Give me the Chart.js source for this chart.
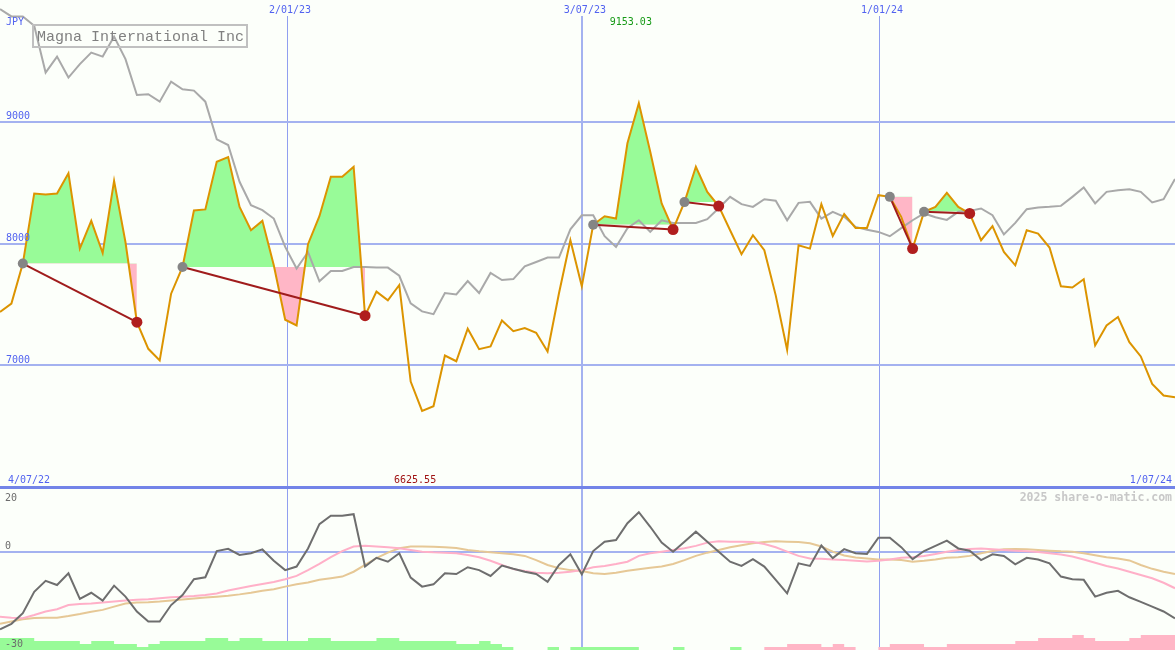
<!DOCTYPE html>
<html>
<head>
<meta charset="utf-8">
<script src="https://cdn.jsdelivr.net/npm/chart.js@4.4.1/dist/chart.umd.min.js"></script>
<style>
  html, body { margin: 0; padding: 0; background: #fcfffa; }
  #wrap { position: relative; width: 1175px; height: 650px; overflow: hidden; }
  #priceChart { position: absolute; left: 0; top: 0; }
  #oscChart { position: absolute; left: 0; top: 485px; }
</style>
</head>
<body>
<div id="wrap">
  <canvas id="priceChart" width="1175" height="487"></canvas>
  <canvas id="oscChart" width="1175" height="165"></canvas>
</div>
<script>
// Weekly chart, 4/07/22 .. 1/07/24, one point per week
const TITLE = 'Magna International Inc';
const CURRENCY = 'JPY';
const START_LABEL = '4/07/22';
const END_LABEL = '1/07/24';
const WATERMARK = '2025 share-o-matic.com';
const GRID_DATES = ['2/01/23', '3/07/23', '1/01/24'];
const GRID_POS = [25.2, 51.05, 77.1];   // week index of the date lines
const PRICE_TICKS = [9000, 8000, 7000];
const OSC_TICKS = [20, 0, -30];

const WEEKS = Array.from({ length: 104 }, (_, i) => i);

const PRICE = [
  7437, 7506, 7835, 8411, 8403, 8411, 8576, 7958, 8186, 7922,
  8515, 8010, 7354, 7135, 7039, 7588, 7807, 8271, 8280, 8671,
  8710, 8301, 8109, 8186, 7821, 7374, 7327, 7994, 8224, 8548,
  8548, 8630, 7407, 7605, 7533, 7659, 6866, 6625.55, 6663, 7080,
  7033, 7300, 7132, 7154, 7368, 7280, 7305, 7267, 7113, 7591,
  8027, 7648, 8154, 8224, 8205, 8823, 9153.03, 8753, 8329, 8115,
  8340, 8630, 8424, 8307, 8109, 7912, 8068, 7945, 7574, 7127,
  7986, 7958, 8323, 8062, 8241, 8128, 8128, 8397, 8383, 8219,
  7958, 8260, 8301, 8416, 8301, 8247, 8027, 8142, 7930, 7821,
  8109, 8082, 7967, 7648, 7638, 7706, 7163, 7327, 7396, 7190,
  7072, 6847, 6751, 6737
];

// comparison index (grey line)
const INDEX = [
  9925, 9865, 9865, 9788, 9404, 9535, 9363, 9473, 9568, 9535,
  9700, 9514, 9220, 9226, 9165, 9330, 9267, 9256, 9165, 8856,
  8809, 8507, 8315, 8274, 8205, 7972, 7794, 7930, 7689, 7774,
  7774, 7807, 7807, 7802, 7802, 7735, 7508, 7442, 7420, 7593,
  7582, 7692, 7593, 7758, 7700, 7708, 7813, 7848, 7884, 7884,
  8117, 8232, 8232, 8060, 7972, 8126, 8191, 8095, 8191, 8169,
  8169, 8169, 8200, 8290, 8383, 8323, 8301, 8364, 8352, 8191,
  8334, 8342, 8204, 8260, 8219, 8136, 8113, 8095, 8060, 8126,
  8191, 8247, 8216, 8194, 8260, 8268, 8288, 8232, 8074, 8169,
  8282, 8296, 8301, 8309, 8383, 8460, 8329, 8424, 8438, 8446,
  8424, 8337, 8364, 8529
];

// trades: entry / exit week
const TRADE_ENTRY = [2, 16, 52, 60, 78, 81];
const TRADE_EXIT = [12, 32, 59, 63, 80, 85];

// lower panel
const OSC = [
  -24.0, -22.3, -19.0, -12.4, -9.0, -10.3, -6.7, -14.6, -12.7, -15.1,
  -10.5, -13.9, -18.5, -21.6, -21.6, -16.5, -13.4, -8.5, -7.9, 0.2,
  0.9, -1.0, -0.5, 0.7, -2.8, -5.7, -4.6, 1.0, 8.5, 11.1,
  11.1, 11.6, -4.6, -1.9, -3.1, -0.5, -8.0, -10.8, -10.1, -6.7,
  -6.9, -4.8, -5.7, -7.5, -4.3, -5.3, -6.2, -6.9, -9.3, -4.1,
  -0.8, -7.0, 0.2, 3.1, 3.6, 8.8, 12.2, 7.7, 2.8, 0.0,
  3.1, 6.2, 3.1, 0.0, -3.1, -4.4, -2.3, -4.6, -8.7, -12.9,
  -3.6, -4.4, 1.9, -2.0, 0.8, -0.5, -0.7, 4.3, 4.3, 1.4,
  -2.3, 0.2, 1.8, 3.4, 1.0, 0.3, -2.6, -0.8, -1.3, -3.9,
  -1.9, -2.4, -3.6, -7.7, -8.5, -8.7, -13.9, -12.7, -12.1, -14.1,
  -15.5, -17.0, -18.5, -20.6
];
const OSC_FAST = [
  -20.1, -20.4, -20.6, -19.6, -18.5, -17.8, -16.5, -16.2, -16.0, -15.7,
  -15.4, -15.1, -14.9, -14.7, -14.4, -14.1, -13.9, -13.7, -13.4, -12.9,
  -12.0, -11.3, -10.6, -10.0, -9.4, -8.5, -7.5, -5.7, -3.8, -1.7,
  0.2, 1.6, 1.8, 1.6, 1.35, 1.05, 0.5, 0.0, -0.2, -0.3,
  -0.5, -1.0, -1.7, -2.8, -4.1, -5.4, -6.0, -6.5, -6.7, -6.5,
  -6.2, -5.7, -4.8, -4.4, -3.8, -3.1, -1.3, -0.5, 0.0, 0.5,
  1.05, 1.8, 2.8, 3.2, 3.1, 3.1, 3.0, 2.4, 1.35, 0.0,
  -1.3, -2.1, -2.2, -2.4, -2.6, -2.8, -3.0, -2.8, -2.4, -1.9,
  -1.7, -1.3, -0.7, 0.0, 0.5, 0.85, 0.95, 0.75, 0.5, 0.3,
  0.1, -0.1, -0.5, -0.9, -1.5, -2.4, -3.4, -4.4, -5.2, -6.2,
  -7.2, -8.2, -9.6, -11.3
];
const OSC_SLOW = [
  -22.3, -21.6, -20.9, -20.5, -20.4, -20.4, -19.9, -19.3, -18.6, -18.0,
  -17.0, -16.0, -15.7, -15.6, -15.4, -15.1, -14.8, -14.5, -14.2, -13.9,
  -13.6, -13.2, -12.7, -12.1, -11.6, -10.8, -10.1, -9.5, -8.7, -8.2,
  -7.7, -6.2, -4.1, -2.0, -0.3, 1.05, 1.6, 1.6, 1.5, 1.35,
  1.15, 0.5, 0.1, -0.2, -0.5, -0.8, -1.3, -2.6, -4.1, -5.1,
  -5.7, -6.0, -6.7, -6.9, -6.5, -5.9, -5.4, -5.0, -4.6, -3.8,
  -2.6, -1.3, -0.3, 0.5, 1.35, 2.0, 2.6, 3.0, 3.2, 3.1,
  3.0, 2.6, 1.6, 0.0, -1.2, -1.8, -2.1, -2.4, -2.4, -2.6,
  -3.1, -2.8, -2.4, -1.9, -1.7, -1.3, -0.5, 0.2, 0.75, 0.85,
  0.75, 0.5, 0.3, 0.1, 0.0, -0.5, -1.1, -1.7, -2.1, -2.7,
  -4.1, -5.3, -6.2, -6.9
];
const BAR_UP = [
  4, 4, 4, 4, 3, 3, 3, 3, 2, 3,
  3, 2, 2, 1, 2, 3, 3, 3, 3, 4,
  4, 3, 4, 4, 3, 3, 3, 3, 4, 4,
  3, 3, 3, 3, 4, 4, 3, 3, 3, 3,
  3, 2, 2, 3, 2, 1, 0, 0, 0, 1,
  0, 1, 1, 1, 1, 1, 1, 0, 0, 0,
  1, 0, 0, 0, 0, 1, 0, 0, 0, 0,
  0, 0, 0, 0, 0, 0, 0, 0, 0, 0,
  0, 0, 0, 0, 0, 0, 0, 0, 0, 0,
  0, 0, 0, 0, 0, 0, 0, 0, 0, 0,
  0, 0, 0, 0
];
const BAR_DOWN = [
  0, 0, 0, 0, 0, 0, 0, 0, 0, 0,
  0, 0, 0, 0, 0, 0, 0, 0, 0, 0,
  0, 0, 0, 0, 0, 0, 0, 0, 0, 0,
  0, 0, 0, 0, 0, 0, 0, 0, 0, 0,
  0, 0, 0, 0, 0, 0, 0, 0, 0, 0,
  0, 0, 0, 0, 0, 0, 0, 0, 0, 0,
  0, 0, 0, 0, 0, 0, 0, 0, 1, 1,
  2, 2, 2, 1, 2, 1, 0, 0, 1, 2,
  2, 2, 1, 1, 2, 2, 2, 2, 2, 2,
  3, 3, 4, 4, 4, 5, 4, 3, 3, 3,
  4, 5, 5, 5
];

const BG = '#fcfffa';
const GRID = '#a4b2f0';
const GRID_THIN = '#909ff0';
const SEP = '#7384e8';
const LABEL_BLUE = '#5263f0';
const ORANGE = '#dc9400';
const GREY_LINE = '#a9a9a9';
const GAIN = '#98fb98';
const LOSS = '#ffb6c6';
const TRADE_RED = '#a01c1c';
const EXIT_RED = '#b01e1e';
const ENTRY_GREY = '#858585';
const SMALL = '10px "DejaVu Sans Mono"';

const isMainDate = c => c.tick && c.tick.value === GRID_POS[1];
const xAxis = () => ({
    type: 'linear', min: 0, max: 103,
    afterBuildTicks: s => { s.ticks = GRID_POS.map(v => ({ value: v })); },
    ticks: { display: false },
    border: { display: false },
    grid: {
        drawTicks: false,
        color: c => isMainDate(c) ? GRID : GRID_THIN,
        lineWidth: c => isMainDate(c) ? 2 : 1
    }
});

const baseOptions = {
    responsive: false,
    animation: false,
    devicePixelRatio: 1,
    events: [],
    layout: { padding: 0, autoPadding: false },
    elements: { line: { tension: 0 }, point: { radius: 0 } }
};

// ---- price panel ----
const priceSets = [];
TRADE_ENTRY.forEach((e, k) => {
    const x = TRADE_EXIT[k];
    const inTrade = i => i >= e && i <= x;
    const levelIdx = priceSets.length;
    priceSets.push({
        data: PRICE.map((v, i) => inTrade(i) ? PRICE[e] : null),
        borderWidth: 0, borderColor: 'rgba(0,0,0,0)', fill: false, order: 10
    });
    priceSets.push({
        data: PRICE.map((v, i) => inTrade(i) ? v : null),
        borderWidth: 0, borderColor: 'rgba(0,0,0,0)', order: 10,
        fill: { target: levelIdx, above: GAIN, below: LOSS }
    });
});
priceSets.push({ data: INDEX, borderColor: GREY_LINE, borderWidth: 2, fill: false, order: 5 });
priceSets.push({ data: PRICE, borderColor: ORANGE, borderWidth: 2, fill: false, order: 3 });
TRADE_ENTRY.forEach((e, k) => {
    const x = TRADE_EXIT[k];
    priceSets.push({
        data: [{ x: e, y: PRICE[e] }, { x: x, y: PRICE[x] }],
        borderColor: TRADE_RED, borderWidth: 2, fill: false, order: 1,
        pointRadius: [5, 5.5], pointBorderWidth: 0,
        pointBackgroundColor: [ENTRY_GREY, EXIT_RED]
    });
});

const priceText = {
    id: 'priceText',
    beforeDatasetsDraw(chart) {
        const { ctx, scales: { x } } = chart;
        ctx.save();
        ctx.fillStyle = BG;
        GRID_POS.forEach(p => ctx.fillRect(x.getPixelForValue(p) - 26, 0, 52, 16));
        ctx.restore();
    },
    afterDatasetsDraw(chart) {
        const { ctx, scales: { x, y } } = chart;
        ctx.save();
        ctx.font = SMALL;
        ctx.textBaseline = 'alphabetic';
        ctx.fillStyle = LABEL_BLUE;
        ctx.textAlign = 'left';
        PRICE_TICKS.forEach(v => ctx.fillText(String(v), 6, y.getPixelForValue(v) - 2.5));
        ctx.fillText(CURRENCY, 6, 24.5);
        ctx.fillText(START_LABEL, 8, 483);
        ctx.textAlign = 'right';
        ctx.fillText(END_LABEL, 1172, 483);
        ctx.textAlign = 'center';
        GRID_DATES.forEach((d, k) => ctx.fillText(d, x.getPixelForValue(GRID_POS[k]) + 2.5, 13));

        const hi = PRICE.indexOf(Math.max(...PRICE));
        const lo = PRICE.indexOf(Math.min(...PRICE));
        ctx.fillStyle = '#169a16';
        ctx.fillText(PRICE[hi].toFixed(2), x.getPixelForValue(hi) - 8, 25);
        ctx.fillStyle = '#a01414';
        ctx.fillText(PRICE[lo].toFixed(2), x.getPixelForValue(lo) - 7, 483);

        ctx.strokeStyle = '#c0c0c0';
        ctx.lineWidth = 2;
        ctx.strokeRect(33, 25, 214, 22);
        ctx.font = '15px "Liberation Mono"';
        ctx.fillStyle = '#808080';
        ctx.textAlign = 'left';
        ctx.fillText(TITLE, 37, 41);
        ctx.restore();
    }
};

new Chart(document.getElementById('priceChart'), {
    type: 'line',
    data: { labels: WEEKS, datasets: priceSets },
    options: {
        ...baseOptions,
        plugins: {
            legend: { display: false },
            tooltip: { enabled: false },
            filler: { drawTime: 'beforeDatasetsDraw' }
        },
        scales: {
            x: xAxis(),
            y: {
                min: 6000, max: 10000,
                afterBuildTicks: s => { s.ticks = PRICE_TICKS.map(v => ({ value: v })); },
                ticks: { display: false },
                border: { display: false },
                grid: { color: GRID, lineWidth: 2, drawTicks: false }
            }
        }
    },
    plugins: [priceText]
});

// ---- oscillator panel ----
const oscText = {
    id: 'oscText',
    afterDatasetsDraw(chart) {
        const { ctx, scales: { y } } = chart;
        ctx.save();
        ctx.font = SMALL;
        ctx.fillStyle = '#6c6c6c';
        ctx.textAlign = 'left';
        ctx.fillText(String(OSC_TICKS[0]), 5, y.getPixelForValue(OSC_TICKS[0]) + 14);
        ctx.fillText(String(OSC_TICKS[1]), 5, y.getPixelForValue(OSC_TICKS[1]) - 3);
        ctx.fillText(String(OSC_TICKS[2]), 5, y.getPixelForValue(OSC_TICKS[2]) - 2);
        ctx.font = 'bold 11.5px "DejaVu Sans Mono"';
        ctx.fillStyle = '#c8c8c8';
        ctx.textAlign = 'right';
        ctx.fillText(WATERMARK, 1172, y.getPixelForValue(OSC_TICKS[0]) + 14);
        ctx.restore();
    }
};

new Chart(document.getElementById('oscChart'), {
    type: 'line',
    data: {
        labels: WEEKS,
        datasets: [
            { data: OSC, borderColor: '#6e6e6e', borderWidth: 2, fill: false, order: 1 },
            { data: OSC_FAST, borderColor: '#ffb0c8', borderWidth: 2, fill: false, order: 2 },
            { data: OSC_SLOW, borderColor: '#e6c896', borderWidth: 2, fill: false, order: 3 },
            { data: BAR_UP, yAxisID: 'yBar', stepped: 'after', borderWidth: 0, borderColor: 'rgba(0,0,0,0)',
              backgroundColor: GAIN, fill: 'origin', order: 4 },
            { data: BAR_DOWN, yAxisID: 'yBar', stepped: 'after', borderWidth: 0, borderColor: 'rgba(0,0,0,0)',
              backgroundColor: LOSS, fill: 'origin', order: 4 }
        ]
    },
    options: {
        ...baseOptions,
        layout: { padding: { top: 2 }, autoPadding: false },
        plugins: { legend: { display: false }, tooltip: { enabled: false } },
        scales: {
            x: xAxis(),
            y: {
                min: -30.4, max: 20,
                afterBuildTicks: s => { s.ticks = [{ value: 0 }, { value: 20 }]; },
                ticks: { display: false },
                border: { display: false },
                grid: {
                    drawTicks: false,
                    color: c => (c.tick && c.tick.value === 20) ? SEP : GRID,
                    lineWidth: c => (c.tick && c.tick.value === 20) ? 3 : 2
                }
            },
            yBar: { display: false, min: 0, max: 54 }
        }
    },
    plugins: [oscText]
});
</script>
</body>
</html>
